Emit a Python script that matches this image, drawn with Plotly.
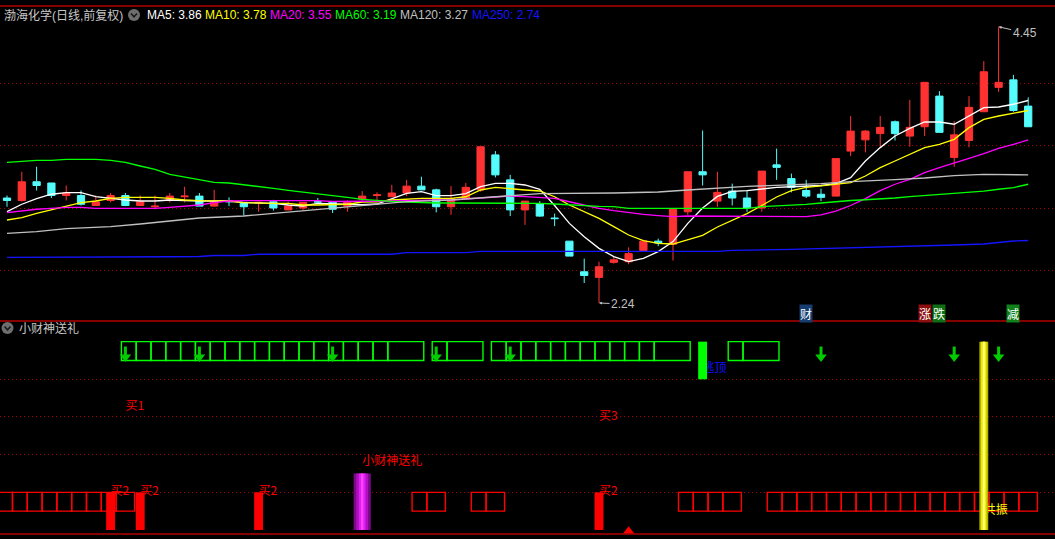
import plotly.graph_objects as go

# ---------------- 日K数据 (70根) ----------------
opens = [3.08, 3.06, 3.21, 3.20, 3.10, 3.10, 3.02, 3.06, 3.10, 3.02,
         3.01, 3.06, 3.09, 3.095, 3.015, 3.055, 3.045, 3.04, 3.05, 2.985,
         3.00, 3.05, 3.05, 3.015, 3.07, 3.10, 3.09, 3.12, 3.175, 3.145,
         3.01, 3.075, 3.145, 3.425, 3.225, 2.985, 3.035, 2.92, 2.735, 2.49,
         2.445, 2.565, 2.57, 2.66, 2.735, 2.71, 2.97, 3.29, 3.055, 3.135,
         3.08, 3.00, 3.345, 3.235, 3.14, 3.11, 3.095, 3.455, 3.545, 3.595,
         3.69, 3.575, 3.65, 3.895, 3.405, 3.54, 3.77, 3.965, 4.025, 3.815]
highs = [3.10, 3.29, 3.33, 3.20, 3.18, 3.14, 3.10, 3.12, 3.12, 3.10,
         3.10, 3.12, 3.17, 3.12, 3.145, 3.085, 3.045, 3.05, 3.065, 3.05,
         3.045, 3.08, 3.055, 3.06, 3.135, 3.125, 3.185, 3.225, 3.25, 3.155,
         3.175, 3.20, 3.49, 3.455, 3.265, 3.055, 3.055, 2.955, 2.735, 2.595,
         2.57, 2.61, 2.685, 2.735, 2.755, 2.99, 3.29, 3.62, 3.29, 3.195,
         3.14, 3.295, 3.475, 3.275, 3.225, 3.155, 3.395, 3.735, 3.625, 3.735,
         3.70, 3.865, 4.005, 3.935, 3.695, 3.895, 4.175, 4.45, 4.065, 3.885]
lows = [3.01, 3.05, 3.14, 3.08, 3.06, 3.02, 3.02, 3.045, 3.015, 3.015,
        2.99, 3.045, 3.045, 3.015, 3.01, 3.015, 2.94, 2.97, 2.98, 2.985,
        2.985, 3.045, 2.96, 2.97, 3.05, 3.065, 3.09, 3.095, 3.145, 2.965,
        2.945, 3.075, 3.13, 3.245, 2.935, 2.865, 2.93, 2.855, 2.615, 2.40,
        2.24, 2.555, 2.55, 2.66, 2.695, 2.58, 2.945, 3.18, 3.01, 3.02,
        2.97, 2.97, 3.225, 3.125, 3.08, 3.055, 3.095, 3.415, 3.445, 3.49,
        3.54, 3.49, 3.575, 3.605, 3.33, 3.485, 3.77, 3.93, 3.77, 3.65]
closes = [3.06, 3.21, 3.18, 3.10, 3.12, 3.03, 3.05, 3.10, 3.02, 3.05,
          3.015, 3.095, 3.095, 3.015, 3.05, 3.05, 3.01, 3.045, 3.00, 3.015,
          3.045, 3.048, 2.99, 3.05, 3.095, 3.105, 3.12, 3.175, 3.145, 3.01,
          3.075, 3.165, 3.49, 3.265, 2.985, 3.055, 2.935, 2.915, 2.615, 2.46,
          2.53, 2.585, 2.635, 2.735, 2.72, 2.99, 3.29, 3.265, 3.125, 3.08,
          3.00, 3.295, 3.325, 3.165, 3.095, 3.085, 3.395, 3.615, 3.615, 3.645,
          3.595, 3.645, 4.005, 3.605, 3.585, 3.805, 4.09, 4.005, 3.78, 3.65]

# ---------------- 均线 ----------------
ma5 = [2.971, 3.03, 3.075, 3.11, 3.123, 3.123, 3.091, 3.077, 3.064, 3.056,
       3.056, 3.064, 3.059, 3.056, 3.056, 3.056, 3.043, 3.043, 3.037, 3.024,
       3.016, 3.037, 3.032, 3.028, 3.026, 3.032, 3.075, 3.117, 3.131, 3.099,
       3.099, 3.115, 3.171, 3.197, 3.197, 3.184, 3.149, 3.02, 2.877, 2.77,
       2.677, 2.611, 2.571, 2.597, 2.651, 2.731, 2.877, 3.0, 3.093, 3.133,
       3.139, 3.152, 3.165, 3.17, 3.177, 3.18, 3.195, 3.243, 3.376, 3.483,
       3.576, 3.637, 3.688, 3.688, 3.67, 3.736, 3.803, 3.808, 3.83, 3.86]
ma10 = [2.904, 2.923, 2.957, 2.984, 3.016, 3.043, 3.056, 3.077, 3.085, 3.085,
        3.085, 3.077, 3.064, 3.059, 3.056, 3.056, 3.043, 3.037, 3.037, 3.037,
        3.024, 3.024, 3.024, 3.03, 3.048, 3.05, 3.064, 3.072, 3.077, 3.077,
        3.077, 3.09, 3.144, 3.165, 3.152, 3.144, 3.136, 3.09, 3.024, 2.971,
        2.917, 2.851, 2.784, 2.739, 2.717, 2.712, 2.749, 2.781, 2.848, 2.901,
        2.955, 3.02, 3.088, 3.139, 3.165, 3.177, 3.19, 3.203, 3.256, 3.323,
        3.376, 3.429, 3.483, 3.509, 3.549, 3.643, 3.709, 3.736, 3.755, 3.78]
ma20 = [2.963, 2.979, 2.99, 2.997, 3.005, 3.005, 2.997, 2.997, 2.997, 2.997,
        2.997, 3.005, 3.016, 3.024, 3.043, 3.056, 3.059, 3.059, 3.064, 3.059,
        3.059, 3.059, 3.052, 3.052, 3.053, 3.053, 3.056, 3.059, 3.064, 3.064,
        3.064, 3.072, 3.083, 3.091, 3.096, 3.091, 3.085, 3.077, 3.05, 3.024,
        2.997, 2.979, 2.963, 2.949, 2.939, 2.931, 2.936, 2.936, 2.936, 2.936,
        2.936, 2.936, 2.931, 2.931, 2.931, 2.945, 2.975, 3.02, 3.075, 3.139,
        3.19, 3.229, 3.283, 3.323, 3.363, 3.397, 3.435, 3.477, 3.509, 3.545]
ma60 = [3.365, 3.373, 3.381, 3.381, 3.389, 3.389, 3.389, 3.381, 3.365, 3.336,
        3.309, 3.269, 3.248, 3.224, 3.205, 3.2, 3.187, 3.173, 3.157, 3.141,
        3.128, 3.112, 3.096, 3.085, 3.069, 3.059, 3.053, 3.048, 3.043, 3.04,
        3.04, 3.04, 3.037, 3.037, 3.037, 3.037, 3.037, 3.032, 3.024, 3.016,
        3.013, 3.011, 2.997, 2.997, 2.997, 2.997, 2.997, 2.997, 2.997, 2.997,
        2.997, 3.011, 3.016, 3.024, 3.029, 3.04, 3.051, 3.06, 3.066, 3.072,
        3.08, 3.091, 3.1, 3.112, 3.122, 3.128, 3.135, 3.15, 3.163, 3.19]
ma120_idx = [0, 2, 4, 7, 9, 11, 13, 16, 18, 20, 22, 24, 25, 27, 30, 33, 34,
             36, 41, 44, 46, 50, 55, 57, 60, 62, 64, 66, 69]
ma120 = [2.797, 2.811, 2.835, 2.851, 2.872, 2.896, 2.92, 2.936, 2.957, 2.976,
         2.997, 3.016, 3.029, 3.051, 3.064, 3.091, 3.10, 3.115, 3.12, 3.128,
         3.144, 3.173, 3.195, 3.211, 3.227, 3.24, 3.259, 3.269, 3.265]
ma250_idx = [0, 10, 11, 13, 14, 16, 17, 26, 27, 31, 32, 48, 49, 53, 56, 58,
             61, 64, 66, 67, 68, 69]
ma250 = [2.605, 2.605, 2.61, 2.612, 2.62, 2.62, 2.63, 2.63, 2.643, 2.643,
         2.653, 2.653, 2.661, 2.669, 2.677, 2.685, 2.696, 2.704, 2.712, 2.725,
         2.736, 2.74]

ma_names = ["MA5", "MA10", "MA20", "MA60", "MA120", "MA250"]
ma_last = [3.86, 3.78, 3.55, 3.19, 3.27, 2.74]
ma_colors = ["#ffffff", "#ffff00", "#ff00ff", "#00ff00", "#c0c0c0", "#1414ff"]

# ---------------- 小财神送礼 指标 ----------------
green_groups = [(8, 26), (29, 30), (33, 44), (49, 50)]      # 绿色空心格
red_groups = [(0, 8), (28, 29), (32, 33), (46, 49), (52, 69)]  # 红色空心格
green_arrows = [8, 13, 22, 29, 34, 55, 64, 67]
buy1_bar, buy3_bar = 8, 40
buy2_bars = [7, 9, 17, 40]
gift_bar = 24
top_bar = 47
resonance_bar = 66
triangle_bar = 42
green_box = (45, 50)
red_box = (5, 10)
buy2_top = 10
gift_top = 15
top_range = (40, 50)
resonance_top = 50
buy1_level, buy3_level, gift_level, buy2_level = 32.7, 29.9, 18.0, 10.2
top_level, resonance_level = 42.8, 5.1

# 顶部标记 (财/涨/跌/减)
flag_bars = [54, 62, 63, 68]
flag_text = ["财", "涨", "跌", "减"]
flag_colors = ["#173d6e", "#8c0f0f", "#0f6e14", "#10801a"]
flag_level = 2.156

stock_title = "渤海化学(日线,前复权)"
panel_title = "小财神送礼"

W, H = 1055, 539
FONT = "Liberation Sans, Noto Sans CJK SC, sans-serif"
CJK = "Noto Sans CJK SC, sans-serif"
RED_LINE = "#b40000"


def px(x):
    return x / W


def py(y):
    return 1 - y / H


n = len(closes)
bars = list(range(n))

fig = go.Figure()

# K线
fig.add_trace(go.Candlestick(
    x=bars, open=opens, high=highs, low=lows, close=closes,
    increasing=dict(line=dict(color="#ff3232", width=1), fillcolor="#ff3232"),
    decreasing=dict(line=dict(color="#54fcfc", width=1), fillcolor="#54fcfc"),
    hoverinfo="skip", xaxis="x", yaxis="y"))

# 均线
for xs, ys, col in [(bars, ma5, ma_colors[0]), (bars, ma10, ma_colors[1]),
                    (bars, ma20, ma_colors[2]), (bars, ma60, ma_colors[3]),
                    (ma120_idx, ma120, ma_colors[4]), (ma250_idx, ma250, ma_colors[5])]:
    fig.add_trace(go.Scatter(x=xs, y=ys, mode="lines", line=dict(color=col, width=1.3),
                             hoverinfo="skip", xaxis="x", yaxis="y"))


# 空心格子
def cell_trace(groups, box, color, offset, last_width):
    xs, ws = [], []
    for a, b in groups:
        for i in range(a, b + 1):
            xs.append(i)
            ws.append(last_width if i == b else 1.0)
    return go.Bar(x=xs, y=[box[1] - box[0]] * len(xs), base=[box[0]] * len(xs),
                  width=ws, offset=[offset] * len(xs),
                  marker=dict(color="rgba(0,0,0,0)", line=dict(color=color, width=1.4)),
                  hoverinfo="skip", xaxis="x2", yaxis="y2")


fig.add_trace(cell_trace(green_groups, green_box, "#00ff00", -0.27, 2.43))
fig.add_trace(cell_trace(red_groups, red_box, "#ff0000", -0.63, 1.25))

# 绿色向下箭头
fig.add_trace(go.Scatter(x=green_arrows, y=[47.4] * len(green_arrows), mode="markers",
                         marker=dict(symbol="line-ns", size=7, line=dict(color="#00cc00", width=3)),
                         hoverinfo="skip", xaxis="x2", yaxis="y2"))
fig.add_trace(go.Scatter(x=green_arrows, y=[45.9] * len(green_arrows), mode="markers",
                         marker=dict(symbol="triangle-down", size=10, color="#00cc00"),
                         hoverinfo="skip", xaxis="x2", yaxis="y2"))
# 红色小三角
fig.add_trace(go.Scatter(x=[triangle_bar], y=[-0.3], mode="markers",
                         marker=dict(symbol="triangle-up", size=10, color="#ff0000"),
                         hoverinfo="skip", xaxis="x2", yaxis="y2"))

# 文字
labels = [
    ([buy1_bar], [buy1_level], ["买1"], "#ff0000"),
    ([buy3_bar], [buy3_level], ["买3"], "#ff0000"),
    (buy2_bars, [buy2_level] * len(buy2_bars), ["买2"] * len(buy2_bars), "#ff0000"),
    ([gift_bar], [gift_level], ["小财神送礼"], "#ff0000"),
    ([top_bar], [top_level], ["逃顶"], "#1010ff"),
    ([resonance_bar], [resonance_level], ["共振"], "#ffff00"),
]
for xs, ys, ts, col in labels:
    fig.add_trace(go.Scatter(x=xs, y=ys, text=ts, mode="text", textposition="middle right",
                             textfont=dict(color=col, size=12, family=CJK),
                             hoverinfo="skip", xaxis="x2", yaxis="y2"))

shapes = []


def rect(x0, x1, y0, y1, color):
    shapes.append(dict(type="rect", xref="x2", yref="y2", x0=x0, x1=x1, y0=y0, y1=y1,
                       fillcolor=color, line=dict(width=0), layer="above"))


for b in buy2_bars:
    rect(b - 0.3, b + 0.3, 0, buy2_top, "#ff0000")
for hw, col in [(0.58, "#7a0888"), (0.4, "#b010c0"), (0.22, "#e020f0"), (0.08, "#ff40ff")]:
    rect(gift_bar - hw, gift_bar + hw, 0, gift_top, col)
rect(top_bar - 0.3, top_bar + 0.3, top_range[0], top_range[1], "#00ff00")
for hw, col in [(0.3, "#b4b400"), (0.18, "#f0f000"), (0.06, "#ffffa0")]:
    rect(resonance_bar - hw, resonance_bar + hw, 0, resonance_top, col)

# 分隔红线
for yy in [6, 321, 534]:
    shapes.append(dict(type="line", xref="paper", yref="paper", x0=0, x1=1, y0=py(yy), y1=py(yy),
                       line=dict(color=RED_LINE, width=1.5)))

# 圆形按钮
for cx, cy in [(134, 15), (7.5, 328)]:
    shapes.append(dict(type="circle", xref="paper", yref="paper",
                       x0=px(cx - 6), x1=px(cx + 6), y0=py(cy + 6), y1=py(cy - 6),
                       fillcolor="#6e6e6e", line=dict(width=0)))
    shapes.append(dict(type="path", xref="paper", yref="paper",
                       path=f"M {px(cx - 3)},{py(cy - 1.5)} L {px(cx)},{py(cy + 1.8)} L {px(cx + 3)},{py(cy - 1.5)}",
                       line=dict(color="#1a1a1a", width=1.6)))

annotations = []
annotations.append(dict(xref="paper", yref="paper", x=px(2), y=py(15), xanchor="left", yanchor="middle",
                        text=stock_title, showarrow=False, font=dict(color="#c8c8c8", size=12, family=FONT)))
for name, val, col, xpos in zip(ma_names, ma_last, ma_colors, [145, 203, 268, 333, 398, 470]):
    annotations.append(dict(xref="paper", yref="paper", x=px(xpos), y=py(15), xanchor="left",
                            yanchor="middle", text=f"{name}: {val:.2f}", showarrow=False,
                            font=dict(color=col, size=12, family=FONT)))
annotations.append(dict(xref="paper", yref="paper", x=px(17), y=py(328), xanchor="left", yanchor="middle",
                        text=panel_title, showarrow=False, font=dict(color="#c8c8c8", size=12, family=FONT)))

for b, t, c in zip(flag_bars, flag_text, flag_colors):
    annotations.append(dict(xref="x", yref="y", x=b, y=flag_level, text=t, showarrow=False,
                            bgcolor=c, borderpad=0, font=dict(color="#ffffff", size=12, family=CJK)))

# 最高/最低价标注
hi_i = highs.index(max(highs))
lo_i = lows.index(min(lows))
annotations.append(dict(xref="x", yref="y", x=hi_i, y=highs[hi_i], text=f"{highs[hi_i]:.2f}",
                        showarrow=True, ax=26, ay=6, arrowhead=2, arrowsize=0.6, arrowwidth=1,
                        arrowcolor="#c0c0c0", font=dict(color="#c0c0c0", size=12, family=FONT)))
annotations.append(dict(xref="x", yref="y", x=lo_i, y=lows[lo_i], text=f"{lows[lo_i]:.2f}",
                        showarrow=True, ax=24, ay=1, arrowhead=2, arrowsize=0.6, arrowwidth=1,
                        arrowcolor="#c0c0c0", font=dict(color="#c0c0c0", size=12, family=FONT)))

xr = [-0.473, 70.81]
fig.update_layout(
    width=W, height=H,
    margin=dict(l=0, r=0, t=0, b=0),
    paper_bgcolor="#000000", plot_bgcolor="#000000",
    showlegend=False, barmode="overlay",
    xaxis=dict(domain=[0, 1], range=xr, anchor="y", showgrid=False, zeroline=False,
               showticklabels=False, rangeslider=dict(visible=False), fixedrange=True),
    yaxis=dict(domain=[py(321), py(6)], range=[2.096, 4.616], tickvals=[2.5, 3.0, 3.5, 4.0],
               showticklabels=False, gridcolor="#a00000", griddash="1px,3px", gridwidth=1,
               zeroline=False, fixedrange=True),
    xaxis2=dict(domain=[0, 1], range=xr, anchor="y2", matches="x", showgrid=False, zeroline=False,
                showticklabels=False, fixedrange=True),
    yaxis2=dict(domain=[py(534), py(321)], range=[-1.06, 55.48], tickvals=[10, 20, 30, 40],
                showticklabels=False, gridcolor="#a00000", griddash="1px,3px", gridwidth=1,
                zeroline=False, fixedrange=True),
    shapes=shapes,
    annotations=annotations,
)

# 页面去掉默认边距, 让图表铺满窗口
fig.write_html("out.html", config={"displayModeBar": False},
               post_script="document.body.style.margin='0';document.body.style.background='#000';")
